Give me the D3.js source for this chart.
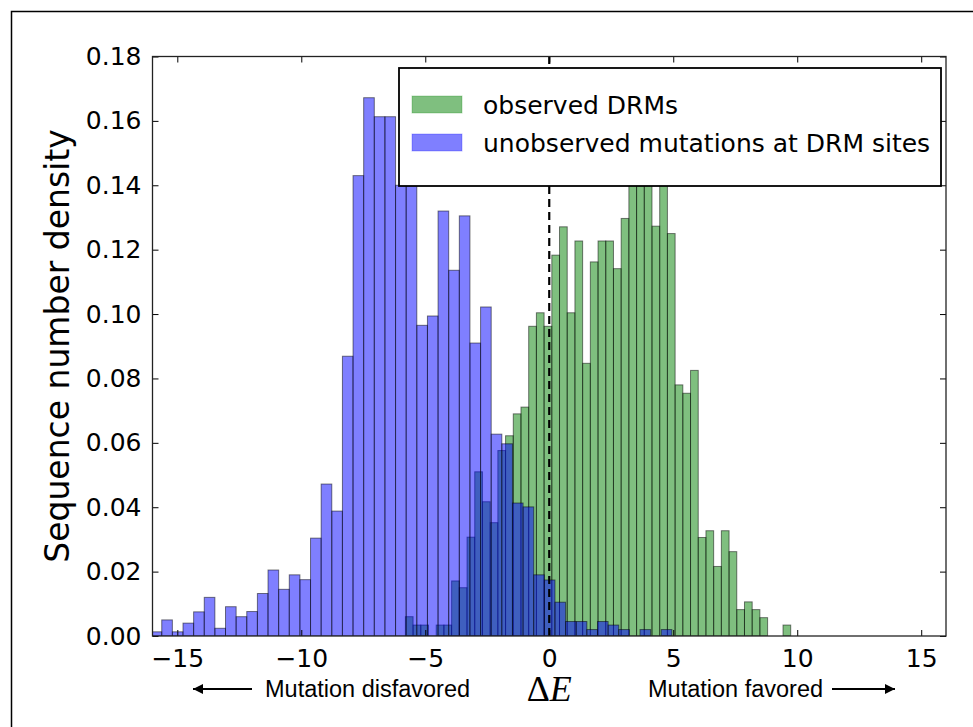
<!DOCTYPE html>
<html><head><meta charset="utf-8">
<script src="https://cdn.jsdelivr.net/npm/d3@7"></script>
<style>body{margin:0;background:#fff} svg{display:block}</style>
</head><body>
<svg id="c" width="973" height="727"></svg>
<script>
// ---- data ----
const greenBinStart = -5.802, greenBinWidth = 0.3108;
const greenDensity = [0.006,0.0034,0.0034,0,0.0034,0.0034,0.0171,0.015,0.0307,0.051,
  0.0417,0.0352,0.0576,0.0622,0.069,0.0711,0.0962,0.1004,0.0962,0.1183,
  0.1271,0.1004,0.1227,0.0847,0.1162,0.1227,0.1227,0.1141,0.1297,0.148,
  0.152,0.145,0.1273,0.146,0.125,0.078,0.0754,0.0825,0.0306,0.0327,
  0.0216,0.0327,0.0262,0.0082,0.0106,0.0082,0.0057,0,0,0.0034];
const blueBinStart = -16.056, blueBinWidth = 0.4286;
const blueDensity = [0.0013,0.005,0.0013,0.004,0.0075,0.012,0.0024,0.0091,0.006,0.0076,
  0.0132,0.0205,0.0145,0.019,0.0175,0.0304,0.0472,0.0388,0.0869,0.143,
  0.1672,0.1613,0.1613,0.14,0.14,0.0965,0.0994,0.132,0.1136,0.1305,
  0.091,0.1022,0.0627,0.0597,0.0413,0.0401,0.019,0.0174,0.0105,0.0045,
  0.0045,0.002,0.0045,0.0034,0.002,0,0.002,0,0.002];
const xTicks = [-15,-10,-5,0,5,10,15];
const yTicks = [0,0.02,0.04,0.06,0.08,0.10,0.12,0.14,0.16,0.18];
const seriesNames = ["observed DRMs","unobserved mutations at DRM sites"];
const yLabel = "Sequence number density";
const leftNote = "Mutation disfavored", rightNote = "Mutation favored";

// ---- chart ----
const svg = d3.select('#c');
const P = {left:152.5, right:946, top:56.5, bottom:636};
const x = d3.scaleLinear().domain([-16,16]).range([P.left,P.right]);
const y = d3.scaleLinear().domain([0,0.18]).range([P.bottom,P.top]);

svg.append('rect').attr('x',11.5).attr('y',11.5).attr('width',990).attr('height',750)
  .attr('fill','none').attr('stroke','#000').attr('stroke-width',1.5);

const defs = svg.append('defs');
defs.append('clipPath').attr('id','clip').append('rect')
  .attr('x',P.left).attr('y',P.top).attr('width',P.right-P.left).attr('height',P.bottom-P.top);
defs.append('marker').attr('id','ah').attr('viewBox','0 0 10 10').attr('refX',10).attr('refY',5)
  .attr('markerWidth',12).attr('markerHeight',10).attr('markerUnits','userSpaceOnUse').attr('orient','auto')
  .append('path').attr('d','M0,0 L10,5 L0,10 z').attr('fill','#000');

const gBins = greenDensity.map((v,i)=>({x0:greenBinStart+i*greenBinWidth, x1:greenBinStart+(i+1)*greenBinWidth, v}));
const bBins = blueDensity.map((v,i)=>({x0:blueBinStart+i*blueBinWidth, x1:blueBinStart+(i+1)*blueBinWidth, v}));

const bars = svg.append('g').attr('clip-path','url(#clip)');
function drawBars(data, color){
  bars.append('g').selectAll('rect').data(data.filter(d=>d.v>0)).join('rect')
    .attr('x',d=>x(d.x0)).attr('width',d=>x(d.x1)-x(d.x0))
    .attr('y',d=>y(d.v)).attr('height',d=>y(0)-y(d.v))
    .attr('fill',color).attr('fill-opacity',0.5)
    .attr('stroke','#000').attr('stroke-opacity',0.5).attr('stroke-width',1);
}
drawBars(gBins,'#008000');
drawBars(bBins,'#0000ff');

// dashed zero line
svg.append('line').attr('x1',x(0)).attr('x2',x(0)).attr('y1',y(0)).attr('y2',y(0.18))
  .attr('stroke','#000').attr('stroke-width',2.2).attr('stroke-dasharray','8,5');

// axes
const fmtX = d => d<0 ? '\u2212'+Math.abs(d) : String(d);
const tickFont = "DejaVu Sans, sans-serif";
function styleAxis(g){
  g.select('.domain').remove();
  g.selectAll('.tick line').attr('stroke','#000').attr('stroke-width',1);
  g.selectAll('.tick text').attr('font-family',tickFont).attr('font-size',25).attr('fill','#000');
}
svg.append('g').attr('transform',`translate(0,${P.bottom})`)
  .call(d3.axisBottom(x).tickValues(xTicks).tickFormat(fmtX).tickSize(-6).tickPadding(13)).call(styleAxis);
svg.append('g').attr('transform',`translate(0,${P.top})`)
  .call(d3.axisTop(x).tickValues(xTicks).tickFormat('').tickSize(-6)).call(styleAxis);
svg.append('g').attr('transform',`translate(${P.left},0)`)
  .call(d3.axisLeft(y).tickValues(yTicks).tickFormat(d3.format('.2f')).tickSize(-6).tickPadding(11)).call(styleAxis);
svg.append('g').attr('transform',`translate(${P.right},0)`)
  .call(d3.axisRight(y).tickValues(yTicks).tickFormat('').tickSize(-6)).call(styleAxis);

svg.append('rect').attr('x',P.left).attr('y',P.top).attr('width',P.right-P.left).attr('height',P.bottom-P.top)
  .attr('fill','none').attr('stroke','#222').attr('stroke-width',1.3);

// legend
const L = svg.append('g');
L.append('rect').attr('x',399).attr('y',68).attr('width',542).attr('height',118)
  .attr('fill','#fff').attr('stroke','#000').attr('stroke-width',1.8);
const legendColors = ['#008000','#0000ff'];
seriesNames.forEach((name,i)=>{
  const yy = 96 + i*38;
  L.append('rect').attr('x',412).attr('y',yy).attr('width',50).attr('height',17)
    .attr('fill',legendColors[i]).attr('fill-opacity',0.5)
    .attr('stroke',legendColors[i]).attr('stroke-opacity',0.25);
  L.append('text').attr('x',483).attr('y',yy+18).attr('font-family',tickFont).attr('font-size',25)
    .attr('fill','#000').text(name);
});

// y label
svg.append('text').attr('transform','translate(69,346) rotate(-90)').attr('text-anchor','middle')
  .attr('font-family',tickFont).attr('font-size',33).attr('fill','#000').text(yLabel);

// bottom annotations
const noteFont = "'Liberation Sans Narrow', 'Arial Narrow', sans-serif";
svg.append('line').attr('x1',252).attr('x2',193).attr('y1',689).attr('y2',689)
  .attr('stroke','#000').attr('stroke-width',2).attr('marker-end','url(#ah)');
svg.append('text').attr('x',265).attr('y',697).attr('font-family',noteFont).attr('font-size',23.5)
  .attr('fill','#000').text(leftNote);
svg.append('text').attr('x',648).attr('y',697).attr('font-family',noteFont).attr('font-size',23.5)
  .attr('fill','#000').text(rightNote);
svg.append('line').attr('x1',832).attr('x2',895).attr('y1',689).attr('y2',689)
  .attr('stroke','#000').attr('stroke-width',2).attr('marker-end','url(#ah)');
const de = svg.append('text').attr('x',x(0)).attr('y',701).attr('text-anchor','middle')
  .attr('font-family',"'Liberation Serif', 'DejaVu Serif', serif").attr('font-size',36).attr('fill','#000');
de.append('tspan').text('\u0394');
de.append('tspan').attr('font-style','italic').text('E');
</script>
</body></html>
